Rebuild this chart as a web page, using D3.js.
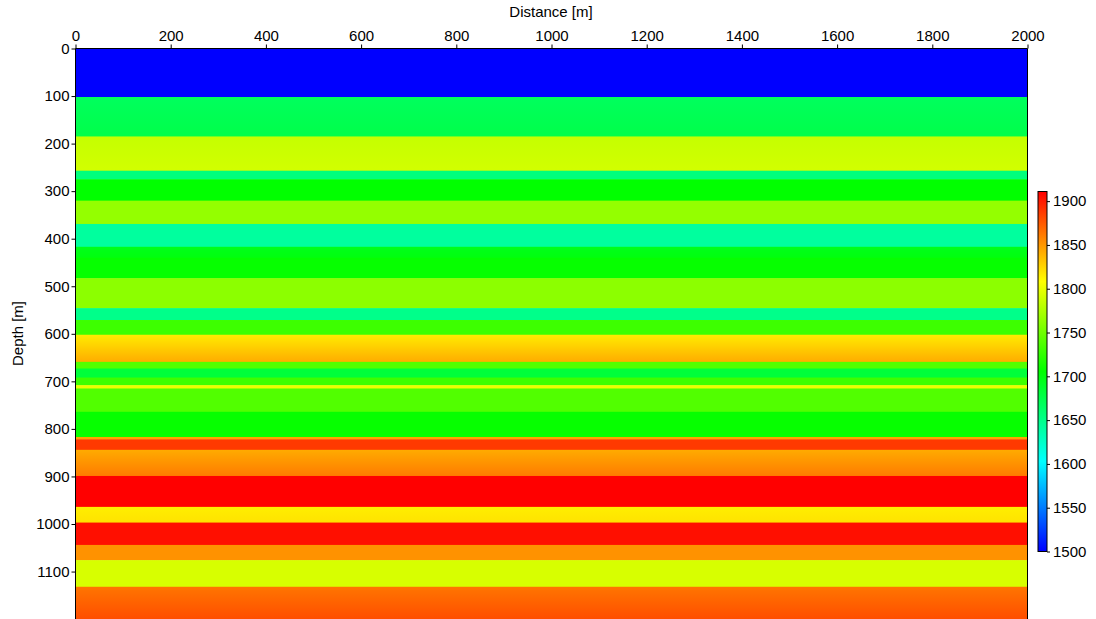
<!DOCTYPE html>
<html>
<head>
<meta charset="utf-8">
<script src="https://cdn.jsdelivr.net/npm/d3@7"></script>
<style>
  body { margin: 0; background: #fff; }
  text { font-family: "Liberation Sans", Arial, sans-serif; }
</style>
</head>
<body>
<script>
// Layer tops in depth [m], and velocity at the top and the bottom of each layer [m/s]
const layerTops = [0, 102, 185, 257, 275, 320, 369, 417, 440, 483, 546, 571, 602, 659, 673, 692, 708, 715, 764, 817, 822, 844, 899, 964, 997, 1044, 1076, 1132];
const velTop    = [1500, 1668, 1785, 1655, 1706, 1765, 1642, 1695, 1708, 1762, 1650, 1730, 1816, 1738, 1682, 1730, 1800, 1738, 1708, 1845, 1888, 1842, 1911, 1815, 1905, 1852, 1792, 1864];
const velBottom = [1500, 1676, 1790, 1655, 1706, 1765, 1642, 1700, 1708, 1762, 1650, 1730, 1842, 1738, 1682, 1730, 1800, 1738, 1708, 1845, 1888, 1862, 1911, 1820, 1905, 1852, 1792, 1880];
const maxDepth = 1200;

// Axes ticks
const distanceTicks = [0, 200, 400, 600, 800, 1000, 1200, 1400, 1600, 1800, 2000];
const depthTicks = [0, 100, 200, 300, 400, 500, 600, 700, 800, 900, 1000, 1100];
const velocityTicks = [1500, 1550, 1600, 1650, 1700, 1750, 1800, 1850, 1900];
const velocityRange = [1500, 1911];

const width = 1096, height = 619;
const fontSize = 15;

const svg = d3.select('body').append('svg')
  .attr('width', width)
  .attr('height', height);

const x = d3.scaleLinear().domain([0, 2000]).range([75.5, 1027.5]);
const y = d3.scaleLinear().domain([0, maxDepth]).range([48.5, 619.1]);

// Rainbow colour map: blue - cyan - green - yellow - red
const step = (velocityRange[1] - velocityRange[0]) / 4;
const color = d3.scaleLinear()
  .domain(d3.range(5).map(i => velocityRange[0] + i * step))
  .range(['#0000ff', '#00ffff', '#00ff00', '#ffff00', '#ff0000']);

const defs = svg.append('defs');

// One vertical gradient per layer
layerTops.forEach((top, i) => {
  const g = defs.append('linearGradient')
    .attr('id', 'layer' + i)
    .attr('x1', 0).attr('y1', 0).attr('x2', 0).attr('y2', 1);
  g.append('stop').attr('offset', '0%').attr('stop-color', color(velTop[i]));
  g.append('stop').attr('offset', '100%').attr('stop-color', color(velBottom[i]));
});

const layers = layerTops.map((top, i) => ({
  top: top,
  bottom: i < layerTops.length - 1 ? layerTops[i + 1] : maxDepth,
  i: i
}));

svg.append('g').selectAll('rect')
  .data(layers)
  .join('rect')
  .attr('x', x(0))
  .attr('width', x(2000) - x(0))
  .attr('y', d => y(d.top))
  .attr('height', d => y(d.bottom) - y(d.top) + 0.5)
  .attr('fill', d => 'url(#layer' + d.i + ')');

// Plot frame
svg.append('path')
  .attr('d', `M${x(0)},${height}V${y(0)}H${x(2000)}V${height}`)
  .attr('fill', 'none')
  .attr('stroke', '#000')
  .attr('stroke-width', 1);

const fmt = d3.format('d');

// Top axis
const xAxis = svg.append('g')
  .attr('transform', `translate(0,${y(0)})`)
  .call(d3.axisTop(x).tickValues(distanceTicks).tickFormat(fmt).tickSize(4).tickPadding(4).tickSizeOuter(0));
xAxis.select('.domain').remove();
xAxis.selectAll('text').attr('font-size', fontSize).attr('fill', '#000');

// Left axis
const yAxis = svg.append('g')
  .attr('transform', `translate(${x(0)},0)`)
  .call(d3.axisLeft(y).tickValues(depthTicks).tickFormat(fmt).tickSize(4).tickPadding(2).tickSizeOuter(0));
yAxis.select('.domain').remove();
yAxis.selectAll('text').attr('font-size', fontSize).attr('fill', '#000');

// Axis titles
svg.append('text')
  .attr('x', 551).attr('y', 17)
  .attr('text-anchor', 'middle')
  .attr('font-size', fontSize)
  .text('Distance [m]');

svg.append('text')
  .attr('transform', `translate(23,${(48 + height) / 2}) rotate(-90)`)
  .attr('text-anchor', 'middle')
  .attr('font-size', fontSize)
  .text('Depth [m]');

// Colour bar
const cbX = 1038, cbW = 9;
const cb = d3.scaleLinear().domain(velocityRange).range([551.5, 191.5]);

const cbGrad = defs.append('linearGradient')
  .attr('id', 'cbar')
  .attr('x1', 0).attr('y1', 1).attr('x2', 0).attr('y2', 0);
color.domain().forEach(v => {
  cbGrad.append('stop')
    .attr('offset', (v - velocityRange[0]) / (velocityRange[1] - velocityRange[0]))
    .attr('stop-color', color(v));
});

svg.append('rect')
  .attr('x', cbX).attr('y', cb(velocityRange[1]))
  .attr('width', cbW).attr('height', cb(velocityRange[0]) - cb(velocityRange[1]))
  .attr('fill', 'url(#cbar)')
  .attr('stroke', '#000')
  .attr('stroke-width', 1);

const cAxis = svg.append('g')
  .attr('transform', `translate(${cbX + cbW},0)`)
  .call(d3.axisRight(cb).tickValues(velocityTicks).tickFormat(fmt).tickSize(3).tickSizeOuter(0));
cAxis.select('.domain').remove();
cAxis.selectAll('text').attr('font-size', fontSize).attr('fill', '#000');
</script>
</body>
</html>
